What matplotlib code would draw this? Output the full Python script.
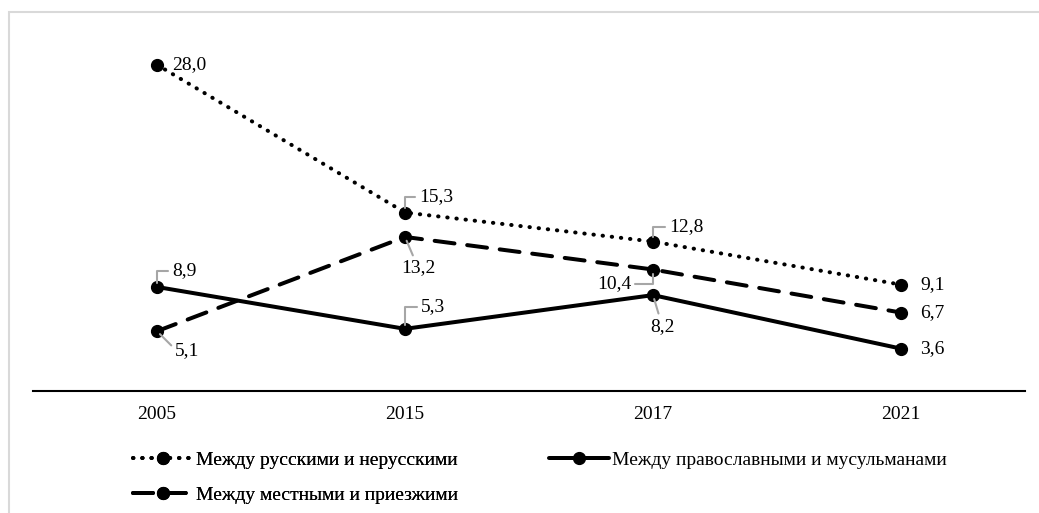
import matplotlib
matplotlib.use("Agg")
import matplotlib.pyplot as plt
from matplotlib.patches import Rectangle

plt.rcParams['font.family'] = ['Liberation Serif', 'DejaVu Serif']

years = ['2005', '2015', '2017', '2021']
rus_nonrus = [28.0, 15.3, 12.8, 9.1]
orth_musl = [8.9, 5.3, 8.2, 3.6]
local_migr = [5.1, 13.2, 10.4, 6.7]
names = ['Между русскими и нерусскими',
         'Между православными и мусульманами',
         'Между местными и приезжими']

W, H = 1039, 513
fig = plt.figure(figsize=(W / 100, H / 100), dpi=100)
fig.patches.append(Rectangle((8.5 / W, -0.1), 1.2, (H - 12.5) / H + 0.1,
                             transform=fig.transFigure, fill=False,
                             edgecolor='#d9d9d9', linewidth=1.5))
ax = fig.add_axes([33 / W, (H - 390.5) / H, (1025 - 33) / W, (390.5 - 41.5) / H])
x = list(range(len(years)))

FS = 14
px = 0.72  # 1px in points
l1, = ax.plot(x, rus_nonrus, color='black', linewidth=4 * px,
              linestyle=(0, (0.1, 2.2)), dash_capstyle='round',
              marker='o', markersize=8.5, label=names[0])
l2, = ax.plot(x, orth_musl, color='black', linewidth=4 * px,
              linestyle='-', solid_capstyle='round',
              marker='o', markersize=8.5, label=names[1])
l3, = ax.plot(x, local_migr, color='black', linewidth=4 * px,
              linestyle=(0, (5, 3.2)), dash_capstyle='round',
              marker='o', markersize=8.5, label=names[2])

ax.set_xlim(-0.5, len(years) - 0.5)
ax.set_ylim(0, 30)
for s in ['top', 'right', 'left']:
    ax.spines[s].set_visible(False)
ax.spines['bottom'].set_linewidth(1.5)
ax.set_yticks([])
ax.set_xticks(x)
ax.set_xticklabels(years, fontsize=FS)
ax.tick_params(axis='x', length=0, pad=11)

def fmt(v):
    return f'{v:.1f}'.replace('.', ',')

lead = dict(arrowstyle='-', color='#a6a6a6', linewidth=1.5, shrinkA=1, shrinkB=3)

def label(xi, v, dx, dy, ha='left', va='center', conn=None):
    kw = {}
    if conn is not None:
        ap = dict(lead)
        ap['connectionstyle'] = conn
        kw['arrowprops'] = ap
    ax.annotate(fmt(v), xy=(xi, v), xytext=(dx, dy), textcoords='offset pixels',
                ha=ha, va=va, fontsize=FS, **kw)

ang = 'angle,angleA=0,angleB=90,rad=0'
# series 1
label(0, rus_nonrus[0], 15, 0)
label(1, rus_nonrus[1], 14, 16, conn=ang)
label(2, rus_nonrus[2], 16, 15, conn=ang)
label(3, rus_nonrus[3], 19, 0)
# series 2
label(0, orth_musl[0], 15, 16, conn=ang)
label(1, orth_musl[1], 16, 22, conn=ang)
label(2, orth_musl[2], -3, -31, ha='left', conn='arc3')
label(3, orth_musl[3], 19, 0)
# series 3
label(0, local_migr[0], 18, -19, conn='angle,angleA=0,angleB=-45,rad=0')
label(1, local_migr[1], -4, -31, ha='left', conn='arc3')
label(2, local_migr[2], -22, -14, ha='right', conn=ang)
label(3, local_migr[3], 19, 0)

leg_kw = dict(loc='upper left', frameon=False, fontsize=FS, handlelength=3.1,
              handletextpad=0.12, labelspacing=0.9, borderpad=0,
              borderaxespad=0, numpoints=1)
leg1 = fig.legend(handles=[l1, l3], bbox_to_anchor=(133 / W, (H - 451) / H), **leg_kw)
fig.add_artist(leg1)
fig.legend(handles=[l2], bbox_to_anchor=(549 / W, (H - 451) / H), **leg_kw)

fig.savefig('out.png', dpi=100)
